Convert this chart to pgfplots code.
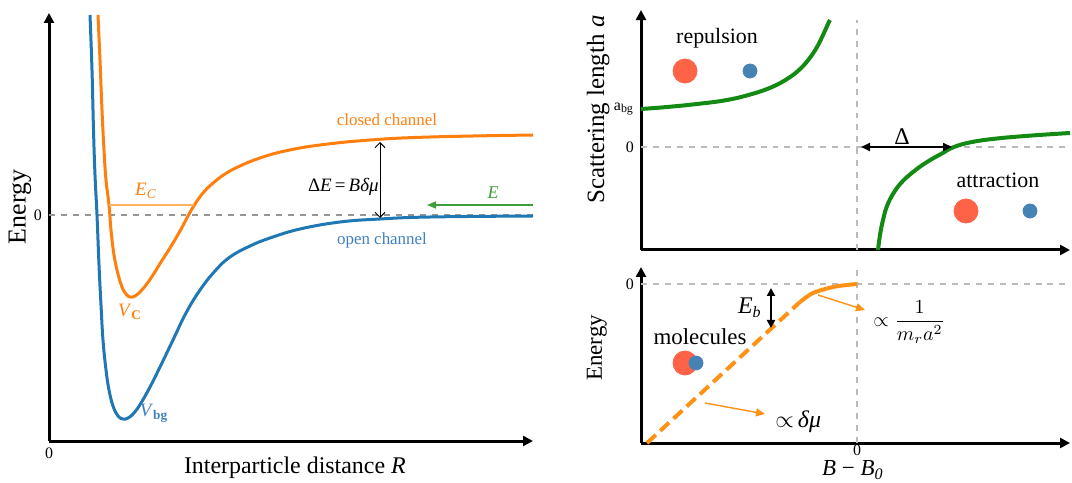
\documentclass[border=0pt]{standalone}
\usepackage{fontspec}
\setmainfont{Liberation Serif}
\usepackage{pgfplots}
\pgfplotsset{compat=1.18}
\usetikzlibrary{arrows.meta}
\definecolor{corange}{HTML}{FF7F0E}
\definecolor{corlight}{HTML}{FFB062}
\definecolor{cor2}{HTML}{FF9214}
\definecolor{cblue}{HTML}{1F77B4}
\definecolor{cbluetext}{HTML}{3F7FBF}
\definecolor{cgreen}{HTML}{138A13}
\definecolor{cgreenl}{HTML}{3E9E3E}
\definecolor{ctomato}{HTML}{FF6347}
\definecolor{csteel}{HTML}{4682B4}
\definecolor{cgrid}{HTML}{BBBBBB}
\newcommand\fs[1]{\fontsize{#1}{#1}\selectfont}
\pgfplotsset{myax/.style={scale only axis, axis lines=left,
  axis line style={line width=1.5bp,-{Triangle[length=5bp,width=5bp]}},
  major tick length=0, clip=false,
  tick label style={font=\fs{8}},
  xlabel style={anchor=center},
  ylabel style={anchor=center}}}
\begin{document}
\begin{tikzpicture}
\useasboundingbox (0,0) rectangle (536bp,241.5bp);
% ---------------- left panel
\begin{axis}[myax, at={(24.5bp,21bp)}, anchor=south west,
  width=242bp, height=214bp, xmin=0, xmax=484, ymin=-226, ymax=202,
  xtick={0}, xticklabels={0}, ytick={0}, yticklabels={0},
  xlabel={Interparticle distance \textit{R}},
  xlabel style={font=\fs{12}, at={(axis description cs:0.508,-0.063)}},
  ylabel={Energy},
  ylabel style={font=\fs{13}, at={(axis description cs:-0.06,0.547)}}]
\addplot[cgrid!80!black, dashed, line width=0.8bp] coordinates {(0,0) (484,0)};
\addplot[cblue, line width=1.5bp, smooth, tension=0.7] coordinates {
(41,200) (43,145) (44.5,85) (46,40) (48,0) (50,-50) (52,-90) (54,-125)
(57,-155) (60,-175) (64,-191) (69,-201) (74,-204) (79,-203) (85,-198)
(92,-188) (101,-172) (111,-152) (124,-125) (137,-98) (151,-75) (166,-56)
(181,-42) (201,-31) (221,-23) (251,-14) (291,-7) (331,-4) (381,-2) (484,-1)};
\addplot[corange, line width=1.5bp, smooth, tension=0.7] coordinates {
(49,200) (51,155) (53,105) (55,65) (57,35) (60,10) (62,-15) (65,-40)
(69,-59) (73,-72) (77,-79) (81,-82) (86,-81) (91,-77) (97,-70) (104,-60)
(112,-47) (121,-33) (131,-16) (139,-1) (146,11) (154,22) (163,31) (176,41)
(191,49) (211,57) (236,64) (271,70) (321,75) (381,78) (484,80)};
\addplot[corlight, line width=1bp] coordinates {(60,10) (145,10)};
\addplot[black, line width=0.5bp, {Straight Barb[length=2.5bp]}-{Straight Barb[length=2.5bp]}] coordinates {(331,73) (331,-3)};
\addplot[cgreenl, line width=0.8bp, -{Triangle[length=4.5bp,width=3.5bp]}] coordinates {(484,10) (378,10)};
\node[corange, font=\fs{8.5}] at (axis cs:338,95) {closed channel};
\node[cbluetext, font=\fs{8.5}] at (axis cs:333,-25) {open channel};
\node[font=\fs{9.5}, anchor=east, inner sep=0.5bp] at (axis cs:331,28) {Δ\textit{E}\,=\,\textit{Bδμ}};
\node[corange, font=\fs{9.5}] at (axis cs:97,24) {\textit{E}\textsubscript{\textit{C}}};
\node[corange, font=\fs{9.5}] at (axis cs:81,-97) {\textit{V}\textsubscript{\textbf{C}}};
\node[cbluetext, font=\fs{9.5}] at (axis cs:105,-198) {\textit{V}\textsubscript{\textbf{bg}}};
\node[cgreenl, font=\fs{9}] at (axis cs:444,22) {\textit{E}};
\end{axis}
% ---------------- right top panel
\begin{axis}[myax, at={(320.5bp,116.5bp)}, anchor=south west,
  width=214.5bp, height=120bp, xmin=-216, xmax=213, ymin=-103, ymax=137,
  xtick=\empty, ytick={0,38}, yticklabels={0,a\textsubscript{bg}},
  ylabel={Scattering length \textit{a}},
  ylabel style={font=\fs{12.5}, at={(axis description cs:-0.100,0.585)}}]
\addplot[cgrid, dashed, line width=0.8bp] coordinates {(0,-103) (0,127)};
\addplot[cgrid, dashed, line width=0.8bp] coordinates {(-216,0) (213,0)};
\addplot[cgreen, line width=2bp, smooth, tension=0.7] coordinates {
(-216,38) (-190,40) (-160,43) (-130,47) (-105,53) (-85,60) (-70,68) (-58,77)
(-48,88) (-40,100) (-34,112) (-29,123) (-27,127)};
\addplot[cgreen, line width=2bp, smooth, tension=0.7] coordinates {
(21,-103) (23,-88) (26,-73) (30,-59) (36,-47) (44,-36) (56,-25) (70,-15)
(84,-7) (97,0) (115,5) (140,8.5) (175,11.5) (213,14)};
\addplot[black, line width=1bp, {Triangle[length=4.5bp,width=4bp]}-{Triangle[length=4.5bp,width=4bp]}] coordinates {(4,0) (95,0)};
\addplot[only marks, mark=*, mark size=6bp, mark options={draw=ctomato, fill=ctomato}] coordinates {(-172,76) (109,-64)};
\addplot[only marks, mark=*, mark size=3.5bp, mark options={draw=csteel, fill=csteel}] coordinates {(-107,76) (173,-64)};
\node[font=\fs{11}] at (axis cs:-140,109) {repulsion};
\node[font=\fs{11}] at (axis cs:141,-33) {attraction};
\node[font=\fs{12}] at (axis cs:45,10) {Δ};
\end{axis}
% ---------------- right bottom panel
\begin{axis}[myax, at={(320.5bp,20bp)}, anchor=south west,
  width=214.5bp, height=88bp, xmin=-216, xmax=213, ymin=-159, ymax=17,
  xtick={0}, xticklabels={0}, ytick={0}, yticklabels={0},
  xticklabel style={yshift=2.5bp},
  xlabel={\textit{B} − \textit{B}\textsubscript{\textit{0}}},
  xlabel style={font=\fs{11.5}, at={(axis description cs:0.494,-0.155)}},
  ylabel={Energy},
  ylabel style={font=\fs{11.5}, at={(axis description cs:-0.103,0.54)}}]
\addplot[cgrid, dashed, line width=0.8bp] coordinates {(0,-159) (0,15)};
\addplot[cgrid, dashed, line width=0.8bp] coordinates {(-216,0) (213,0)};
\addplot[cor2, line width=2bp, dash pattern=on 6bp off 3bp] coordinates {(-210,-159) (-57,-18)};
\addplot[cor2, line width=2bp, smooth] coordinates {(-57,-18) (-44,-9) (-24,-3) (-10,-1) (0,0)};
\addplot[black, line width=1bp, {Triangle[length=4bp,width=4bp]}-{Triangle[length=4bp,width=4bp]}] coordinates {(-86,-4) (-86,-44)};
\addplot[cor2, line width=0.7bp, -{Triangle[length=4.5bp,width=4bp]}] coordinates {(-39,-11) (8,-26)};
\addplot[cor2, line width=0.7bp, -{Triangle[length=4.5bp,width=4bp]}] coordinates {(-152,-119) (-92,-130)};
\addplot[only marks, mark=*, mark size=6bp, mark options={draw=ctomato, fill=ctomato}] coordinates {(-172,-79)};
\addplot[only marks, mark=*, mark size=3.5bp, mark options={draw=csteel, fill=csteel}] coordinates {(-161,-79)};
\node[font=\fs{12}, anchor=east, inner sep=1bp] at (axis cs:-93,-24) {\textit{E}\textsubscript{\textit{b}}};
\node[font=\fs{11.5}] at (axis cs:-157,-53) {molecules};
\node[font=\fs{10}, anchor=west, inner sep=0pt] at (axis cs:16,-38) {$\propto\displaystyle\frac{1}{m_r a^2}$};
\node[font=\fs{12}, anchor=west, inner sep=0pt] at (axis cs:-82,-138) {$\propto$\,\textit{δμ}};
\end{axis}
\end{tikzpicture}
\end{document}
